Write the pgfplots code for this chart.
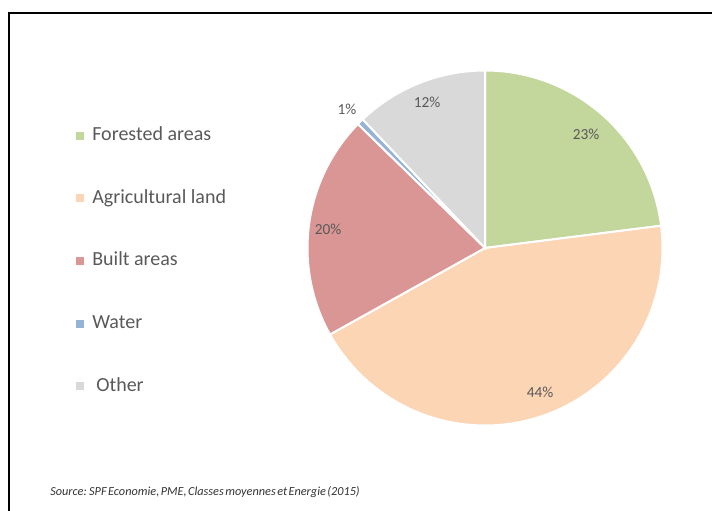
\documentclass[border=0pt]{standalone}
\usepackage{pgfplots}
\usepackage{pgfplotstable}
\pgfplotsset{compat=1.18}
\usepackage{fontspec}
\setmainfont{Carlito}
\definecolor{cForest}{HTML}{C3D69B}
\definecolor{cAgri}{HTML}{FCD5B5}
\definecolor{cBuilt}{HTML}{D99694}
\definecolor{cWater}{HTML}{95B3D7}
\definecolor{cOther}{HTML}{D9D9D9}
\definecolor{txt}{HTML}{595959}

% land use shares (%)
\pgfplotstableread{
label value
Forested 23.0
Agricultural 43.9
Built 20.4
Water 0.6
Other 12.1
}\piedata

\pgfplotstablegetelem{0}{value}\of\piedata \let\vA\pgfplotsretval
\pgfplotstablegetelem{1}{value}\of\piedata \let\vB\pgfplotsretval
\pgfplotstablegetelem{2}{value}\of\piedata \let\vC\pgfplotsretval
\pgfplotstablegetelem{3}{value}\of\piedata \let\vD\pgfplotsretval
\pgfplotstablegetelem{4}{value}\of\piedata \let\vE\pgfplotsretval
\pgfmathsetmacro{\aA}{90}
\pgfmathsetmacro{\aB}{\aA-3.6*\vA}
\pgfmathsetmacro{\aC}{\aB-3.6*\vB}
\pgfmathsetmacro{\aD}{\aC-3.6*\vC}
\pgfmathsetmacro{\aE}{\aD-3.6*\vD}
\pgfmathsetmacro{\aF}{\aE-3.6*\vE}

\begin{document}
\begin{tikzpicture}
\begin{axis}[
  width=534pt, height=382.5pt, scale only axis,
  xmin=-485, xmax=227, ymin=-262, ymax=248,
  hide axis, clip=false,
  legend image code/.code={\fill[#1] (0pt,-3pt) rectangle (6pt,3pt); \path (12pt,0pt);},
  legend style={draw=none, fill=none,
    at={(axis description cs:0.1012,0.758)}, anchor=north west,
    font=\fontsize{15}{17}\selectfont, text=txt,
    nodes={inner sep=0pt, text height=10.5pt, text depth=3.5pt},
    row sep=33pt, cells={anchor=west}},
]
\addplot[fill=cForest, draw=white, line width=1.5pt, data cs=polar, domain=\aB:\aA, samples=80, forget plot] ({x},{177.5}) -- (axis cs:0,0) -- cycle;
\addplot[fill=cAgri, draw=white, line width=1.5pt, data cs=polar, domain=\aC:\aB, samples=120, forget plot] ({x},{177.5}) -- (axis cs:0,0) -- cycle;
\addplot[fill=cBuilt, draw=white, line width=1.5pt, data cs=polar, domain=\aD:\aC, samples=80, forget plot] ({x},{177.5}) -- (axis cs:0,0) -- cycle;
\addplot[fill=cWater, draw=white, line width=1.5pt, data cs=polar, domain=\aE:\aD, samples=10, forget plot] ({x},{177.5}) -- (axis cs:0,0) -- cycle;
\addplot[fill=cOther, draw=white, line width=1.5pt, data cs=polar, domain=\aF:\aE, samples=60, forget plot] ({x},{177.5}) -- (axis cs:0,0) -- cycle;

\addlegendimage{fill=cForest, draw=none}
\addlegendentry{Forested areas}
\addlegendimage{fill=cAgri, draw=none}
\addlegendentry{Agricultural land}
\addlegendimage{fill=cBuilt, draw=none}
\addlegendentry{Built areas}
\addlegendimage{fill=cWater, draw=none}
\addlegendentry{Water}
\addlegendimage{fill=cOther, draw=none}
\addlegendentry{\hspace{3pt}Other}

\addplot[black, line width=1.5pt, forget plot] coordinates {(-476,-280) (-476,235) (240,235)};

\begin{scope}[every node/.style={font=\fontsize{11.5}{13}\selectfont, text=txt}]
\node at (axis cs:101,114) {23\%};
\node at (axis cs:-58,146) {12\%};
\node at (axis cs:-138,139) {1\%};
\node at (axis cs:-157,19) {20\%};
\node at (axis cs:55,-144) {44\%};
\end{scope}
\node[anchor=west, inner sep=0pt, font=\itshape\fontsize{9.2}{11}\selectfont, text=black!80] at (axis cs:-435,-244) {\spaceskip=0.12em Source: SPF Economie, PME, Classes moyennes et Energie (2015)};
\end{axis}
\pgfresetboundingbox
\path (current axis.south west) rectangle (current axis.north east);
\end{tikzpicture}
\end{document}
